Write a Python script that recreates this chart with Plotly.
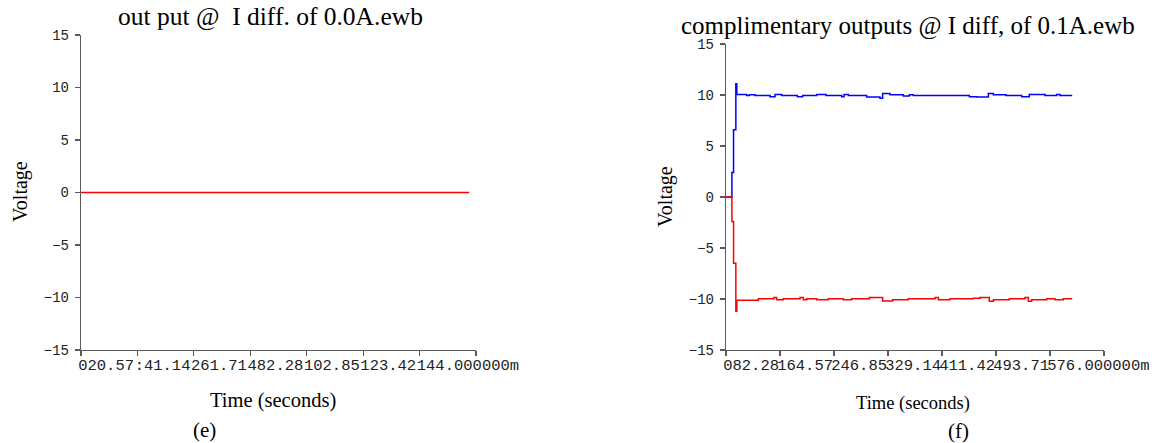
import plotly.graph_objects as go

# ---------------- data ----------------
# (e) output @ I diff of 0.0 A  (time in ms)
e_time_ms = [0, 141.5]
e_voltage = [0, 0]

# (f) complementary outputs @ I diff of 0.1 A (time in ms), step-wise traces
f_pos_time = [0, 9, 11.5, 15, 16.5, 31.5, 35.6, 44.2, 67, 74.7, 84.8, 108.7, 116.8, 138.1,
              152.4, 176.3, 179.8, 186.4, 214.3, 234.6, 238.7, 249.9, 270.2, 279.3, 285.4,
              370.8, 382, 399.8, 407.4, 426.7, 450.6, 462.2, 486, 503.8, 508.9, 527.6]
f_pos_volt = [0, 2.4, 6.6, 11.1, 10.05, 9.95, 10.02, 9.95, 9.82, 10.05, 9.95, 9.82, 9.95, 10.05,
              9.95, 9.82, 10.05, 9.95, 9.8, 9.68, 10.15, 10.02, 9.9, 10.03, 9.95,
              9.82, 9.8, 10.15, 10.02, 9.95, 9.82, 10.05, 9.95, 10.05, 9.95, 9.95]

f_neg_time = [0, 9, 11.5, 15, 16.5, 49.3, 73.1, 77.2, 87.4, 112.8, 117.8, 122.9, 138.1, 155.9,
              178.8, 191.5, 218.4, 238.7, 253.9, 277.8, 318.5, 323.6, 341.3, 376.8, 387,
              401.2, 407.4, 431.8, 455.6, 460.7, 465.8, 488.7, 501.3, 514, 527.6]
f_neg_volt = [0, -2.4, -6.5, -11.2, -10.13, -9.97, -9.85, -10.07, -9.97, -9.85, -10.07, -9.97,
              -10.07, -9.97, -10.07, -9.97, -9.85, -10.2, -10.07, -9.97, -9.85, -10.07, -9.97,
              -9.92, -9.85, -10.23, -10.07, -9.97, -9.85, -10.23, -10.07, -9.97, -10.07, -9.97, -9.97]

# axes ticks (labels as they appear, overlapping in the original export)
y_tick_vals = [-15, -10, -5, 0, 5, 10, 15]
e_xtick_vals = [0, 20.571, 41.143, 61.714, 82.286, 102.857, 123.429, 144]
e_xtick_text = ["020.57", ":41.14", "261.71", "482.28", "102.85", "123.42", "144.000000m", ""]
f_xtick_vals = [0, 82.286, 164.571, 246.857, 329.143, 411.429, 493.714, 576]
f_xtick_text = ["082.28", "164.57", "246.85", "329.14", "411.42", "493.71", "576.000000m", ""]

e_title = "out put @\u00a0 I diff. of 0.0A.ewb"
f_title = "complimentary outputs @ I diff, of 0.1A.ewb"
x_title = "Time (seconds)"
y_title = "Voltage"
e_caption = "(e)"
f_caption = "(f)"

# ---------------- figure ----------------
W, H = 1169, 443
fig = go.Figure()

fig.add_trace(go.Scatter(x=e_time_ms, y=e_voltage, mode="lines",
                         line=dict(color="#ff0000", width=1.5),
                         xaxis="x", yaxis="y", showlegend=False))
fig.add_trace(go.Scatter(x=f_pos_time, y=f_pos_volt, mode="lines", line_shape="hv",
                         line=dict(color="#0000ff", width=1.5),
                         xaxis="x2", yaxis="y2", showlegend=False))
fig.add_trace(go.Scatter(x=f_neg_time, y=f_neg_volt, mode="lines", line_shape="hv",
                         line=dict(color="#ff0000", width=1.5),
                         xaxis="x2", yaxis="y2", showlegend=False))

def px_x(p):
    return p / W

def px_y(p):
    return 1 - p / H

axis_col = "#5a5a5a"
tick_font = dict(family="Liberation Mono", size=15.5, color="#222222")
ytick_font = dict(family="Liberation Mono", size=14, color="#222222")

common_x = dict(showline=True, linecolor=axis_col, linewidth=1.2, ticks="outside",
                ticklen=5, tickcolor=axis_col, tickwidth=1.2, showgrid=False,
                zeroline=False, tickfont=tick_font, ticklabelposition="outside right",
                ticklabelshift=-4, tickangle=0, automargin=False, fixedrange=True)
common_y = dict(showline=True, linecolor=axis_col, linewidth=1.2, ticks="outside",
                ticklen=5, tickcolor=axis_col, tickwidth=1.2, showgrid=False,
                zeroline=False, tickfont=ytick_font, range=[-15, 15], automargin=False,
                ticklabelstandoff=3,
                tickmode="array", tickvals=y_tick_vals, fixedrange=True)

fig.update_layout(
    width=W, height=H,
    margin=dict(l=0, r=0, t=0, b=0, autoexpand=False),
    paper_bgcolor="white", plot_bgcolor="white",
    showlegend=False,
    xaxis=dict(common_x, domain=[px_x(81), px_x(476)], range=[0, 144], anchor="y",
               tickmode="array", tickvals=e_xtick_vals, ticktext=e_xtick_text),
    yaxis=dict(common_y, domain=[px_y(350), px_y(35)], anchor="x"),
    xaxis2=dict(common_x, domain=[px_x(726), px_x(1104)], range=[0, 576], anchor="y2",
                tickmode="array", tickvals=f_xtick_vals, ticktext=f_xtick_text),
    yaxis2=dict(common_y, domain=[px_y(350), px_y(44)], anchor="x2"),
)

serif = "Liberation Serif"
ann = [
    dict(text=e_title, x=px_x(270), y=px_y(17), font=dict(family=serif, size=25.5, color="black")),
    dict(text=f_title, x=px_x(908), y=px_y(26), font=dict(family=serif, size=25, color="black")),
    dict(text=x_title, x=px_x(273), y=px_y(400), font=dict(family=serif, size=20.5, color="black")),
    dict(text=x_title, x=px_x(913), y=px_y(403), font=dict(family=serif, size=18.5, color="black")),
    dict(text=y_title, x=px_x(20), y=px_y(192), textangle=-90, font=dict(family=serif, size=20, color="black")),
    dict(text=y_title, x=px_x(665), y=px_y(197), textangle=-90, font=dict(family=serif, size=20, color="black")),
    dict(text=e_caption, x=px_x(204), y=px_y(430), font=dict(family=serif, size=21, color="black")),
    dict(text=f_caption, x=px_x(958), y=px_y(431), font=dict(family=serif, size=21, color="black")),
]
for a in ann:
    a.update(xref="paper", yref="paper", showarrow=False, xanchor="center", yanchor="middle")
fig.update_layout(annotations=ann)

fig.write_html("out.html", config={"displayModeBar": False, "staticPlot": True})

# remove the browser's default page margin so the figure sits at the window origin
with open("out.html", "r", encoding="utf-8") as fh:
    page = fh.read()
page = page.replace("<head>", "<head><style>html,body{margin:0;padding:0;overflow:hidden}</style>", 1)
with open("out.html", "w", encoding="utf-8") as fh:
    fh.write(page)
